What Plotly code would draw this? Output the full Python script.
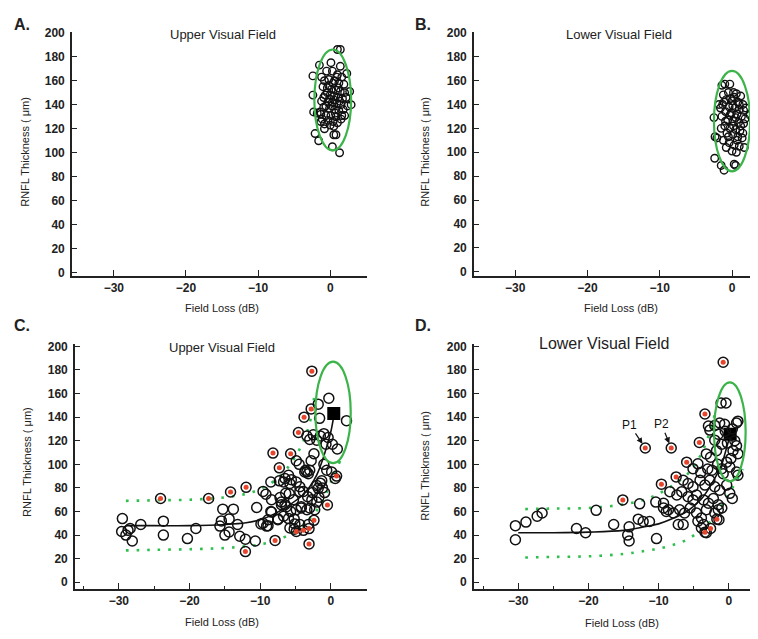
import plotly.graph_objects as go

# ---------------- data ----------------
A_x = [1.0, 1.4, -1.5, 0.1, -2.4, 1.4, -1.2, 2.3, -2.4, 2.7, 2.9, 2.4, -2.3, -1.8, -1.3, -2.1, -1.6, 0.5, 0.8, 0.3, 1.3, -0.8, 0.5, 2.0, 1.6,
       -0.5, 0.3, 1.0, 1.6, -0.8, -0.2, 0.6, 1.2, 1.9, -1.0, -0.4, 0.2, 0.8, 1.4, 2.0, -0.7, 0.0, 0.5, 1.1, 1.7, -1.2, -0.3, 0.3, 0.9, 1.5,
       2.2, -0.9, -0.1, 0.6, 1.2, -1.4, -0.6, 0.1, 0.8, -1.1, -0.3, 0.4, 1.0, -0.8, 0.0, -1.3, 1.5, -0.4, 0.4, 0.9, -0.1, 1.3, 0.7, -0.6,
       0.2, 1.8, -0.2, 1.1, 0.5, -0.9]
A_y = [186, 186, 173, 175, 164, 172, 163, 166, 148, 151, 140, 139, 134, 133, 132, 116, 110, 115, 115, 105, 100, 120, 122, 131, 131,
       168, 168, 165, 163, 160, 161, 160, 158, 157, 155, 154, 153, 152, 151, 150, 148, 148, 147, 146, 145, 143, 142, 142, 141, 140,
       146, 138, 137, 136, 135, 134, 131, 131, 130, 128, 127, 126, 125, 124, 123, 126, 128, 150, 158, 163, 145, 143, 133, 139,
       139, 136, 156, 154, 144, 146]

B_x = [-1.0, -0.3, -1.4, -2.4, -1.5, -1.1, 0.3, 0.5, -2.35, -2.1, -2.5, 2.5, -1.8, -1.6,
       -0.5, 0.2, 0.6, 1.2, -1.2, -0.8, 0.0, 0.8, 1.5, -1.3, -0.4, 0.4, 1.0, 1.6, 1.9, -0.9, -0.1, 0.7, 1.3, -1.4, -0.6, 0.2,
       0.9, 1.6, -1.0, -0.3, 0.5, 1.1, -0.7, 0.1, 0.8, 1.4, -1.2, -0.4, 0.3, 1.0, 1.7, -0.8, 0.0, 0.6, -1.5, 1.8, -0.2, 0.5,
       1.2, 0.1, -0.9, 0.7, -0.5, 1.5, 0.3, -1.1, 1.0, 0.2, -0.3]
B_y = [157, 157, 156, 95, 89, 85, 90, 89, 113, 112, 129, 131, 140, 137,
       150, 150, 149, 147, 148, 144, 143, 142, 140, 140, 138, 137, 136, 135, 137, 134, 133, 132, 130, 130, 127, 126,
       125, 124, 122, 120, 119, 118, 116, 115, 113, 112, 110, 108, 106, 105, 104, 104, 101, 100, 120, 128, 145, 129,
       122, 139, 126, 110, 113, 116, 146, 142, 140, 122, 131]

C_x = [-29.5, -29.6, -28.7, -29.0, -28.4, -28.1, -26.9, -23.7, -23.7, -20.3, -19.1, -15.3, -15.7, -15.5, -15.0, -14.4, -14.4,
       -13.8, -13.2, -12.9, -12.1, -10.7, -10.5, -9.9, -9.6, -9.2, -9.1, -8.9, -8.4, -8.5, -7.5, -7.2, -7.0, -6.7,
       -0.3, -1.8, -1.6, 2.2, -3.4, -3.0, -2.5, -2.0, -1.5, -1.0, -0.4, 0.2, -0.7, 0.9, -4.9, -4.5, -3.6, -3.4, -2.8, -2.4,
       -0.6, 0.1, -6.0, -5.6, -4.9, -7.3, -2.0, -1.8, -4.4, -3.9, -3.3, -2.6, -5.9, -5.3, -7.0, -8.4, -6.3, -5.7, -4.9, -4.2,
       -3.4, -3.0, -2.3, -2.7, -2.0, -1.7, -8.5, -7.5, -9.6, -8.9, -6.7, -6.0, -5.2, -5.8, -5.2, -3.2, -1.5, -1.2, -0.9,
       -1.0, -1.3, -6.5, -5.8, -6.4, -6.5, -5.1, -4.4, -4.2, -4.4, -3.7, -3.0, -3.2, 0.6]
C_y = [54, 43, 44, 40, 45.6, 35, 49, 51.8, 40, 37, 45.6, 62, 47.6, 52, 40, 42.6, 53.7,
       62, 49, 39, 36.5, 35, 63.4, 49.5, 77, 74.6, 47.6, 53, 59.5, 85, 53.7, 71.8, 65.7, 85,
       156, 151, 139, 137, 124, 121, 125, 120.5, 124, 126, 122.7, 117, 117, 113, 103, 100, 95, 93.5, 103, 109,
       95, 93.5, 90.7, 87, 85, 86, 82, 79.6, 81, 77, 72.6, 76, 75, 70, 68, 70, 64, 60, 61.5, 64,
       61.5, 63, 61.5, 70, 68, 72, 60, 53, 50, 48, 56, 54, 53.7, 46, 45, 49, 84, 80, 76,
       100, 86, 88, 83.7, 75.4, 65.7, 49.5, 49, 63, 76.8, 93.5, 95, 92, 88]
C_red_x = [-24.1, -17.3, -14.2, -12.0, -12.1, -8.2, -7.9, -7.3, -2.7, -3.8, -4.6, -5.7, -2.8, 0.8, -0.5, -4.9, -3.9, -3.1, -2.4, -3.1]
C_red_y = [71, 71, 76.5, 80.5, 26, 109.5, 35.5, 97, 179, 140, 127, 109, 147, 90, 65.5, 43, 44, 45.5, 52.5, 32.5]
C_fit_x = [-29, -25, -20, -15, -12, -10, -8, -6, -4, -3, -2, -1, 0, 0.4]
C_fit_y = [48, 48, 48, 49, 50.5, 53, 58, 65, 74, 81, 91, 107, 128, 141]
C_up_x = [-29, -25, -20, -15, -12, -10, -8, -6, -5, -4, -3, -2.3]
C_up_y = [69, 69.5, 70, 72, 75, 79, 86, 98, 107, 118, 135, 160]
C_lo_x = [-29, -25, -20, -15, -12, -10, -8, -6, -4, -3, -2, -1, 0, 1.3]
C_lo_y = [27, 27.5, 28, 29, 30.5, 32, 35, 40, 48, 54, 61, 71, 85, 103]
C_sq_x = [0.4]
C_sq_y = [143]

D_x = [-30.4, -30.4, -28.9, -27.3, -26.6, -21.7, -20.4, -18.9, -16.4, -14.2, -14.4, -14.2, -12.7, -12.9, -12.2, -11.3,
       -10.4, -10.3, -9.3, -8.9,
       -1.1, -0.4, -2.9, -2.7, -2.0, -1.3, -0.6, 1.1, 1.3, -1.5, -2.0, -1.0, -1.75, 0.6, 1.3, 0.85, 1.1, -3.2, -2.6,
       -4.4, -5.1, -0.3, 0.14, 1.1, 1.3, -1.0, -0.8, -6.5, -5.8, -5.1, -4.1, -3.4, -2.7, -2.0, -1.3, -0.3, 0.14, 0.5,
       -8.4, -7.4, -6.7, -5.8, -5.1, -4.6, -3.6, -2.9, -2.2, -1.5, -1.0, -9.3, -8.6, -7.9, -7.0, -6.3, -5.5, -4.6,
       -3.9, -3.2, -2.0, -1.5, -1.4, -7.2, -6.5, -3.9, -3.2, -4.4, -3.6, -0.5, 0.5, -0.2, 0.3, -1.6, -2.4, -3.0, -4.0]
D_y = [48, 36, 51, 56, 58.7, 45.6, 42, 61, 49, 47, 40, 35, 66.5, 53.5, 51.5, 51.5,
       68, 37, 63, 60,
       152, 152, 132.4, 129, 133, 135, 134, 135, 136.6, 125.5, 120.5, 117, 111.6, 111.6, 109, 120, 115.7, 108.8, 106,
       100.4, 96.3, 101.8, 97.7, 93.5, 90.7, 96.3, 92, 86.5, 83.7, 81, 86.5, 82.4, 86.5, 81, 78, 82.4, 75.4, 71,
       76.8, 74, 76.8, 72.6, 69.8, 74, 69.8, 67, 71, 65.7, 63, 67, 61.5, 58.7, 61.5, 58.7, 63, 58.7,
       54.5, 61.5, 58.7, 61.5, 53, 49, 49, 46, 42, 51.7, 49, 128, 130, 118, 105, 100, 95, 96, 93]
D_red_x = [-0.8, -3.4, -4.2, -11.9, -8.2, -6.0, -7.5, -9.6, -15.1, -1.7, -3.4, -2.6]
D_red_y = [186.5, 142.7, 118.5, 113.8, 113.8, 101.8, 89.3, 83.2, 69.8, 53.5, 42.5, 45.6]
D_fit_x = [-30, -25, -20, -15, -12, -10, -8, -6, -4, -3, -2, -1, -0.5, 0.2]
D_fit_y = [42, 42, 42.5, 44, 47, 49.5, 54, 60, 70, 78, 88, 100, 110, 125]
D_up_x = [-29, -25, -20, -15, -12, -10, -8, -6, -5, -4, -3, -2]
D_up_y = [62, 62.5, 63, 66, 70, 75, 82, 91, 98, 108, 122, 142]
D_lo_x = [-29, -25, -20, -15, -12, -10, -8, -6, -4, -3, -2, -1, 0, 1, 2]
D_lo_y = [21, 21.5, 22, 24, 26.5, 28.5, 31.5, 36, 44, 49, 56, 65, 75, 85, 96]
D_sq_x = [0.2]
D_sq_y = [125.5]

# ellipse: centre x, centre y, half-width, half-height
ELL_A = [0.35, 144, 2.55, 42]
ELL_B = [0.0, 126, 2.5, 42]
ELL_C = [0.3, 144, 2.5, 43]
ELL_D = [0.15, 127.5, 2.25, 42]

# P1 / P2 labels: label position and point
P_labels = ["P1", "P2"]
P_label_x = [-14.1, -9.6]
P_label_y = [133.5, 134]
P_point_x = [-11.9, -8.2]
P_point_y = [113.8, 113.8]

x_ticks = [-30, -20, -10, 0]
y_ticks = [0, 20, 40, 60, 80, 100, 120, 140, 160, 180, 200]

# ---------------- figure ----------------
W, H = 758, 639
OFF = 8  # page body margin: the plot div sits 8px in from the window corner
GREEN = "#3cb44a"
DOTGREEN = "#2fbf4f"
RED = "#e8452c"
FONT = "Liberation Sans, Arial, sans-serif"

fig = go.Figure()


def ring(xs, ys, xa, ya, size, lw):
    fig.add_trace(go.Scatter(x=xs, y=ys, xaxis=xa, yaxis=ya, mode="markers",
                             marker=dict(symbol="circle", size=size, color="rgba(0,0,0,0)",
                                         line=dict(color="#111", width=lw)),
                             hoverinfo="skip"))


def panel_lines(xa, ya, fx, fy, ux, uy, lx, ly, sx, sy):
    for xs, ys in ((ux, uy), (lx, ly)):
        fig.add_trace(go.Scatter(x=xs, y=ys, xaxis=xa, yaxis=ya, mode="lines",
                                 line=dict(color=DOTGREEN, width=2.6, dash="2.6px,8px", shape="spline"),
                                 hoverinfo="skip"))
    fig.add_trace(go.Scatter(x=fx, y=fy, xaxis=xa, yaxis=ya, mode="lines",
                             line=dict(color="#111", width=1.6, shape="spline"), hoverinfo="skip"))
    fig.add_trace(go.Scatter(x=sx, y=sy, xaxis=xa, yaxis=ya, mode="markers",
                             marker=dict(symbol="square", size=13, color="#000"), hoverinfo="skip"))


ring(A_x, A_y, "x", "y", 7.5, 1.4)
ring(B_x, B_y, "x2", "y2", 7.5, 1.4)

panel_lines("x3", "y3", C_fit_x, C_fit_y, C_up_x, C_up_y, C_lo_x, C_lo_y, C_sq_x, C_sq_y)
ring(C_x, C_y, "x3", "y3", 10, 1.5)
ring(C_red_x, C_red_y, "x3", "y3", 10, 1.5)
fig.add_trace(go.Scatter(x=C_red_x, y=C_red_y, xaxis="x3", yaxis="y3", mode="markers",
                         marker=dict(size=5, color=RED), hoverinfo="skip"))

panel_lines("x4", "y4", D_fit_x, D_fit_y, D_up_x, D_up_y, D_lo_x, D_lo_y, D_sq_x, D_sq_y)
ring(D_x, D_y, "x4", "y4", 10, 1.5)
ring(D_red_x, D_red_y, "x4", "y4", 10, 1.5)
fig.add_trace(go.Scatter(x=D_red_x, y=D_red_y, xaxis="x4", yaxis="y4", mode="markers",
                         marker=dict(size=5, color=RED), hoverinfo="skip"))

tickfont = dict(family=FONT, size=12, color="#222", weight="bold")


def xax(domain, rng, anchor, minor):
    d = dict(domain=domain, range=rng, anchor=anchor, showline=True, linecolor="#222", linewidth=1.6,
             ticks="inside", ticklen=6, tickwidth=1.4, tickcolor="#222", tickvals=x_ticks,
             showgrid=False, zeroline=False, tickfont=tickfont, fixedrange=True)
    if minor:
        d["minor"] = dict(tickmode="array", tickvals=[-35, -25, -15, -5, 5], ticks="inside",
                          ticklen=3, tickwidth=1.2, tickcolor="#222", showgrid=False)
    return d


def yax(domain, rng, anchor):
    return dict(domain=domain, range=rng, anchor=anchor, showline=True, linecolor="#222", linewidth=1.6,
                ticks="inside", ticklen=5, tickwidth=1.4, tickcolor="#222", tickvals=y_ticks,
                showgrid=False, zeroline=False, tickfont=tickfont, ticklabelstandoff=3, fixedrange=True)


def px(v):
    return (v - OFF) / W


def py(v):
    return 1 - (v - OFF) / H


top_dom = [py(274), py(26)]
bot_dom = [py(592), py(343.5)]

shapes = []
for ell, xa, ya in ((ELL_A, "x", "y"), (ELL_B, "x2", "y2"), (ELL_C, "x3", "y3"), (ELL_D, "x4", "y4")):
    cx, cy, rx, ry = ell
    shapes.append(dict(type="circle", xref=xa, yref=ya, x0=cx - rx, x1=cx + rx, y0=cy - ry, y1=cy + ry,
                       line=dict(color=GREEN, width=2.2)))

ann = []


def txt(x, y, s, size, bold=False, angle=0):
    ann.append(dict(x=px(x), y=py(y), xref="paper", yref="paper", text=s, showarrow=False,
                    xanchor="center", yanchor="middle", textangle=angle,
                    font=dict(family=FONT, size=size, color="#222", weight="bold" if bold else "normal")))


txt(22, 19, "A.", 16, True)
txt(423, 19, "B.", 16, True)
txt(22, 324, "C.", 16, True)
txt(423, 324, "D.", 16, True)
txt(223, 29, "Upper Visual Field", 13)
txt(619, 29, "Lower Visual Field", 13)
txt(222, 347, "Upper Visual Field", 13)
txt(604, 343, "Lower Visual Field", 16)
for cx, cy in ((222, 307), (621, 307), (222, 626), (622, 627)):
    txt(cx, cy, "Field Loss (dB)", 11)
for cx, cy in ((25, 148), (425, 148), (27, 463), (425, 467)):
    txt(cx, cy, "RNFL Thickness ( μm)", 11, angle=-90)

for lab, lx, ly, ptx, pty in zip(P_labels, P_label_x, P_label_y, P_point_x, P_point_y):
    ann.append(dict(x=ptx, y=pty, xref="x4", yref="y4", ax=lx, ay=ly, axref="x4", ayref="y4",
                    text=lab, showarrow=True, arrowhead=2, arrowsize=1, arrowwidth=1.2, arrowcolor="#111",
                    standoff=5, font=dict(family=FONT, size=12, color="#111")))

fig.update_layout(
    width=W, height=H, margin=dict(l=0, r=0, t=0, b=0),
    paper_bgcolor="white", plot_bgcolor="white", showlegend=False,
    xaxis=xax([px(72), px(367)], [-35.8, 5.1], "y", False),
    yaxis=yax(top_dom, [-2.5, 200.8], "x"),
    xaxis2=xax([px(474), 1.0], [-35.7, 4.7], "y2", False),
    yaxis2=yax(top_dom, [-3.3, 200.8], "x2"),
    xaxis3=xax([px(75), px(367)], [-36.2, 5.1], "y3", True),
    yaxis3=yax(bot_dom, [-5.6, 201.8], "x3"),
    xaxis4=xax([px(474), 1.0], [-36.3, 5.3], "y4", True),
    yaxis4=yax(bot_dom, [-5.6, 201.8], "x4"),
    shapes=shapes, annotations=ann,
)

fig.write_html("out.html")
